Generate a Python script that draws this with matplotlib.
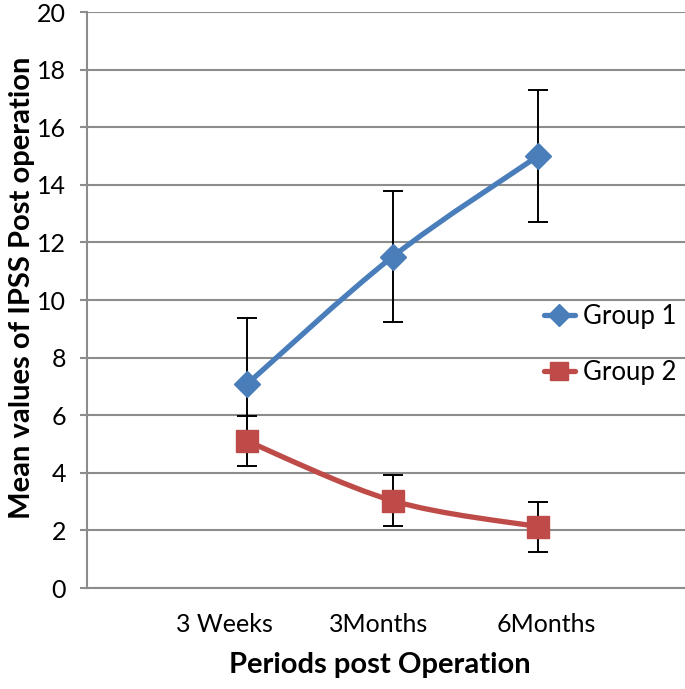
import numpy as np
import matplotlib
matplotlib.use("Agg")
import matplotlib.pyplot as plt
from matplotlib.path import Path
from matplotlib.patches import PathPatch

# data
periods = ["3 Weeks", "3Months", "6Months"]
group1 = [7.08, 11.5, 15.0]
group1_err = [2.3, 2.28, 2.28]
group2 = [5.1, 3.03, 2.13]
group2_err = [0.87, 0.88, 0.87]

BLUE = "#4A7EBB"
RED = "#BE4B48"
GRID = "#8C8C8C"

plt.rcParams['font.family'] = ['Lato', 'DejaVu Sans']


def smooth_path(xs, ys):
    # Excel-like smoothed line: cubic bezier through the points
    pts = np.column_stack([xs, ys]).astype(float)
    n = len(pts)
    verts = [pts[0]]
    codes = [Path.MOVETO]
    for i in range(n - 1):
        p0 = pts[i - 1] if i > 0 else pts[i]
        p1 = pts[i]
        p2 = pts[i + 1]
        p3 = pts[i + 2] if i + 2 < n else pts[i + 1]
        c1 = p1 + (p2 - p0) / 6.0
        c2 = p2 - (p3 - p1) / 6.0
        verts += [c1, c2, p2]
        codes += [Path.CURVE4] * 3
    return Path(verts, codes)


fig = plt.figure(figsize=(6.85, 6.89), dpi=100)
ax = fig.add_axes([87 / 685, 1 - 588 / 689, 598 / 685, 576 / 689])

x = np.arange(len(periods))

for vals, errs, col, mk, ms, lab in [
        (group1, group1_err, BLUE, "D", 13, "Group 1"),
        (group2, group2_err, RED, "s", 16, "Group 2")]:
    ax.add_patch(PathPatch(smooth_path(x, vals), facecolor="none",
                           edgecolor=col, lw=3.8, capstyle="round", zorder=3))
    ax.errorbar(x, vals, yerr=errs, fmt="none", ecolor="black",
                elinewidth=1.4, capsize=7, capthick=1.4, zorder=4)
    ax.plot(x, vals, linestyle="none", marker=mk, markersize=ms,
            color=col, zorder=5)
    # legend handle
    ax.plot([], [], color=col, lw=3.8, marker=mk, markersize=ms * 0.85,
            solid_capstyle="round", label=lab)

ax.set_xlim(-1.1, 3.01)
ax.set_ylim(0, 20)
ax.set_yticks(np.arange(0, 21, 2))
ax.yaxis.grid(True, color=GRID, lw=1.5)
ax.set_axisbelow(True)

# category labels sit a bit off the points in the reference
label_pos = [-0.158, 0.904, 2.06]
ax.set_xticks(label_pos)
ax.set_xticklabels(periods, fontsize=18)
ax.tick_params(axis="x", length=0, pad=18)
ax.tick_params(axis="y", labelsize=18, length=5, width=1.5, color=GRID, pad=10)

for s in ["top", "right"]:
    ax.spines[s].set_visible(False)
ax.spines["left"].set_color(GRID)
ax.spines["left"].set_linewidth(1.5)
ax.spines["bottom"].set_color(GRID)
ax.spines["bottom"].set_linewidth(1.5)

ax.set_ylabel("Mean values of IPSS Post operation", fontsize=21,
              fontweight="bold")
ax.yaxis.set_label_coords(-(87 - 22) / 598, (588 - 288) / 576)
ax.set_xlabel("Periods post Operation", fontsize=21, fontweight="bold")
ax.xaxis.set_label_coords((380 - 87) / 598, -(665 - 588) / 576)
ax.xaxis.label.set_va("center")
ax.yaxis.label.set_va("center")

ax.legend(loc="upper left", bbox_to_anchor=((544 - 87) / 598, (588 - 304) / 576),
          frameon=False, fontsize=18.5, handlelength=1.2, handletextpad=0.3,
          labelspacing=1.2, borderpad=0, borderaxespad=0)

fig.savefig("out.png", dpi=100)
